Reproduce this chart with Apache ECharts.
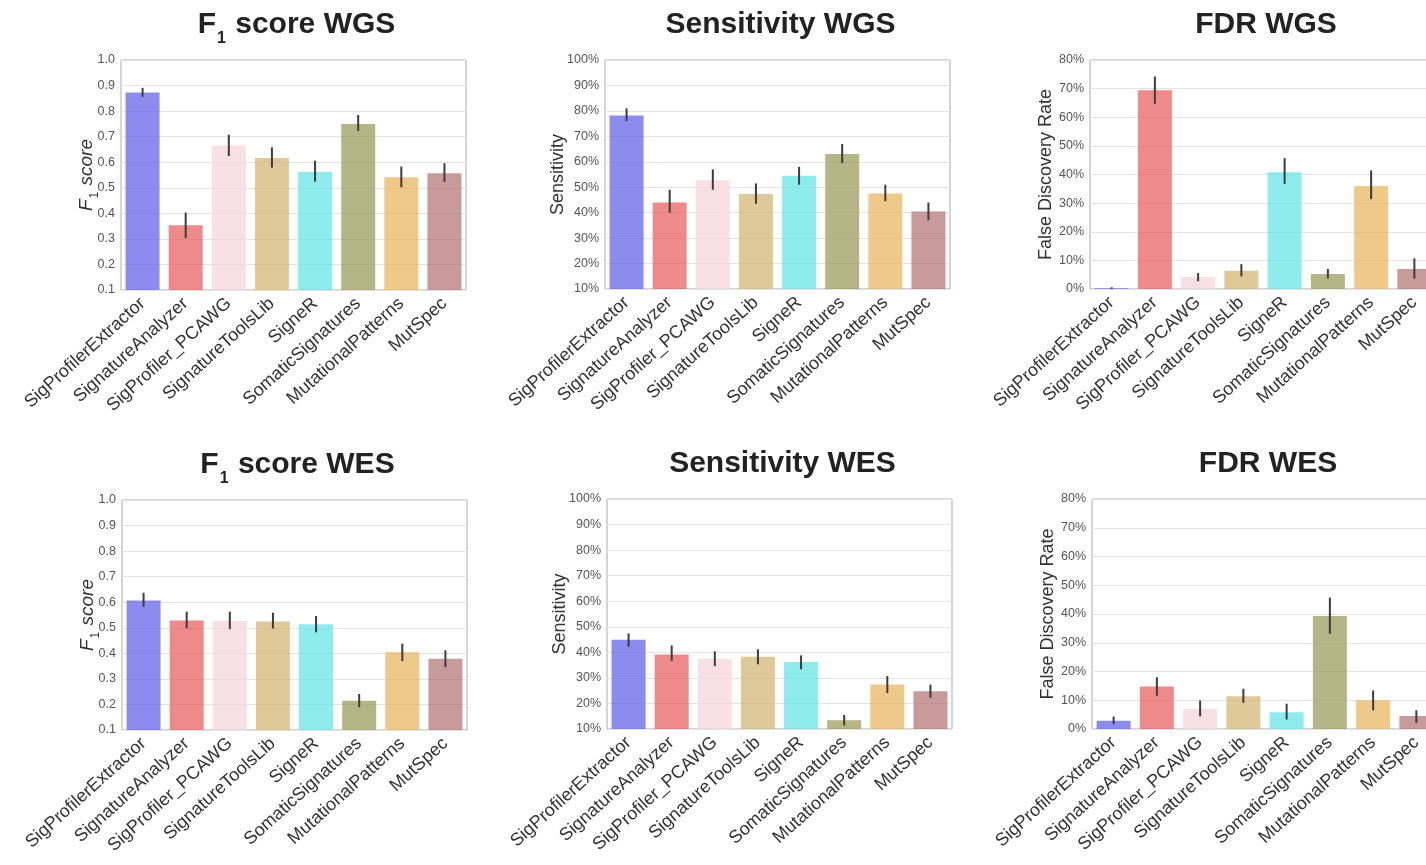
<!DOCTYPE html>
<html>
<head>
<meta charset="utf-8">
<script src="https://cdn.jsdelivr.net/npm/echarts@6/dist/echarts.min.js"></script>
<style>
html,body{margin:0;padding:0;background:#fff;}
#chart{width:1426px;height:865px;}
</style>
</head>
<body>
<div id="chart"></div>
<script>
const categories = ['SigProfilerExtractor','SignatureAnalyzer','SigProfiler_PCAWG','SignatureToolsLib','SigneR','SomaticSignatures','MutationalPatterns','MutSpec'];
const barColors = ['rgba(102,102,232,0.75)','rgba(232,99,99,0.75)','rgba(246,214,222,0.75)','rgba(212,183,118,0.75)','rgba(104,230,230,0.75)','rgba(156,156,92,0.75)','rgba(232,183,99,0.75)','rgba(183,120,120,0.75)'];

const f1WGS     = [0.873,0.353,0.665,0.617,0.563,0.750,0.541,0.557];
const f1WGSLow  = [0.856,0.303,0.624,0.579,0.524,0.722,0.502,0.523];
const f1WGSHigh = [0.891,0.403,0.708,0.658,0.606,0.785,0.583,0.596];

const sensWGS     = [78.2,44.0,52.7,47.3,54.5,63.1,47.5,40.5];
const sensWGSLow  = [76.0,40.0,49.0,43.5,51.0,59.5,44.5,37.0];
const sensWGSHigh = [81.0,49.0,57.0,51.5,58.0,67.0,51.0,44.0];

const fdrWGS     = [0.3,69.4,4.2,6.4,40.8,5.2,36.0,7.0];
const fdrWGSLow  = [0.0,64.7,2.7,4.4,36.7,3.7,31.4,3.6];
const fdrWGSHigh = [0.6,74.2,5.6,8.7,45.7,7.0,41.4,10.7];

const f1WES     = [0.607,0.528,0.527,0.525,0.514,0.214,0.404,0.379];
const f1WESLow  = [0.582,0.498,0.495,0.497,0.482,0.189,0.370,0.346];
const f1WESHigh = [0.637,0.563,0.563,0.559,0.546,0.241,0.438,0.412];

const sensWES     = [44.9,39.2,37.4,38.3,36.2,13.4,27.4,24.8];
const sensWESLow  = [42.2,36.6,34.6,35.3,33.3,11.4,24.1,22.2];
const sensWESHigh = [47.4,42.7,40.4,41.2,38.8,15.5,30.7,27.4];

const fdrWES     = [2.9,14.8,7.0,11.4,5.8,39.3,10.0,4.5];
const fdrWESLow  = [1.7,11.6,4.4,9.1,3.3,33.1,6.5,2.1];
const fdrWESHigh = [4.3,18.0,9.9,14.0,8.8,45.7,13.4,6.5];

const panelTitles = ['{a|F}{s|1}{a| score WGS}','{a|Sensitivity WGS}','{a|FDR WGS}','{a|F}{s|1}{a| score WES}','{a|Sensitivity WES}','{a|FDR WES}'];
const axisNames = ['{i|F}{s|1}{i| score}','Sensitivity','False Discovery Rate','{i|F}{s|1}{i| score}','Sensitivity','False Discovery Rate'];

const panels = [
  {mean:f1WGS, low:f1WGSLow, high:f1WGSHigh, min:0.1, max:1.0, interval:0.1, pct:false},
  {mean:sensWGS, low:sensWGSLow, high:sensWGSHigh, min:10, max:100, interval:10, pct:true},
  {mean:fdrWGS, low:fdrWGSLow, high:fdrWGSHigh, min:0, max:80, interval:10, pct:true},
  {mean:f1WES, low:f1WESLow, high:f1WESHigh, min:0.1, max:1.0, interval:0.1, pct:false},
  {mean:sensWES, low:sensWESLow, high:sensWESHigh, min:10, max:100, interval:10, pct:true},
  {mean:fdrWES, low:fdrWESLow, high:fdrWESHigh, min:0, max:80, interval:10, pct:true}
];

const layout = [
  {left:121, top:60, width:345, height:230, gap:22},
  {left:605, top:60, width:345, height:229, gap:38},
  {left:1090, top:60, width:346, height:229, gap:35},
  {left:122, top:500, width:345, height:230, gap:22},
  {left:607, top:499, width:345, height:230, gap:38},
  {left:1092, top:499, width:346, height:230, gap:35}
];

const grids = [], xAxes = [], yAxes = [], series = [], titles = [];
panels.forEach((p, k) => {
  const L = layout[k];
  grids.push({left:L.left, top:L.top, width:L.width, height:L.height, show:true, borderColor:'#ababab', borderWidth:1, backgroundColor:'#fff', outerBoundsMode:'none', containLabel:false});
  titles.push({
    text: panelTitles[k], left: L.left + L.width/2 - 2, top: L.top - 55, textAlign:'center',
    textStyle:{rich:{
      a:{fontFamily:'Liberation Sans, Arial', fontWeight:'bold', fontSize:30, color:'#222', lineHeight:33, verticalAlign:'top'},
      s:{fontFamily:'Liberation Sans, Arial', fontWeight:'bold', fontSize:16, color:'#222', lineHeight:17, padding:[21,1,0,1], verticalAlign:'top'}
    }}
  });
  xAxes.push({
    type:'category', gridIndex:k, data:categories,
    axisLine:{show:false}, axisTick:{show:false},
    axisLabel:{rotate:42, fontSize:18, color:'#333', fontFamily:'Liberation Sans, Arial', margin:11, interval:0}
  });
  yAxes.push({
    type:'value', gridIndex:k, min:p.min, max:p.max, interval:p.interval,
    axisLine:{show:false}, axisTick:{show:false},
    axisLabel:{fontSize:12.5, color:'#555', fontFamily:'Liberation Sans, Arial', margin:6,
      formatter: p.pct ? (v => Math.round(v) + '%') : (v => v.toFixed(1))},
    splitLine:{lineStyle:{color:'#e3e3e3', width:1}},
    name: axisNames[k], nameLocation:'middle', nameGap:L.gap, nameMoveOverlap:false,
    nameTextStyle: p.pct ? {fontSize:18, color:'#333', fontFamily:'Liberation Sans, Arial'} :
      {rich:{
        i:{fontSize:19, fontStyle:'italic', color:'#333', fontFamily:'Liberation Sans, Arial', lineHeight:22, verticalAlign:'top'},
        s:{fontSize:12, color:'#333', fontFamily:'Liberation Sans, Arial', lineHeight:12, padding:[12,1,0,1], verticalAlign:'top'}
      }}
  });
  series.push({
    type:'bar', xAxisIndex:k, yAxisIndex:k, barWidth:34, clip:true,
    data: p.mean.map((v, i) => ({value:v, itemStyle:{color:barColors[i]}}))
  });
  series.push({
    type:'custom', xAxisIndex:k, yAxisIndex:k, clip:true, z:5,
    data: p.mean.map((v, i) => [i, p.low[i], p.high[i]]),
    encode:{x:0, y:[1,2]},
    renderItem: function(params, api){
      const a = api.coord([api.value(0), api.value(1)]);
      const b = api.coord([api.value(0), api.value(2)]);
      return {type:'line', shape:{x1:a[0], y1:a[1], x2:b[0], y2:b[1]}, style:{stroke:'#3c3c3c', lineWidth:2}};
    }
  });
});

const chart = echarts.init(document.getElementById('chart'), null, {renderer:'canvas'});
chart.setOption({
  backgroundColor:'#fff',
  animation:false,
  title: titles,
  grid: grids,
  xAxis: xAxes,
  yAxis: yAxes,
  series: series
});
</script>
</body>
</html>
